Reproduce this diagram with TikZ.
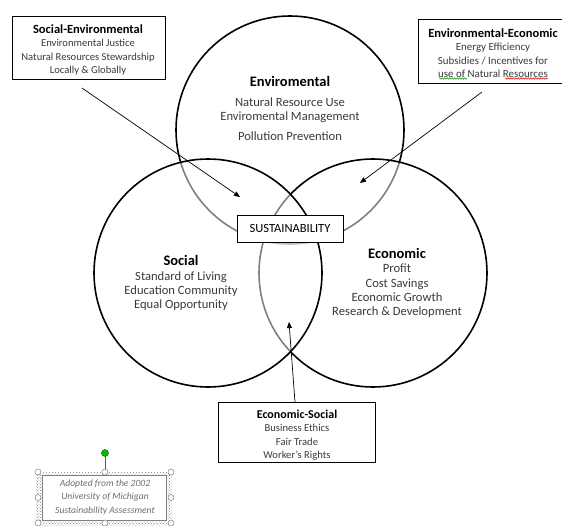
\documentclass[tikz,border=0pt]{standalone}
\usepackage{fontspec}
\setmainfont{Carlito}
\usetikzlibrary{arrows.meta,decorations.pathmorphing,patterns}
\definecolor{txt}{HTML}{3A3A3A}
\definecolor{note}{HTML}{6E6E6E}
\begin{document}
\begin{tikzpicture}[x=1pt,y=-1pt,
  ring/.style={circle,draw=black,line width=1.6pt,minimum size=228pt,inner sep=0pt},
  veil/.style={ring,fill=white,fill opacity=0.5},
  box/.style={draw=black,line width=0.8pt,fill=white},
  blk/.style={align=center,text=txt,inner sep=0pt},
  arr/.style={line width=0.7pt,-{Triangle[length=6pt,width=5pt]}},
  handle/.style={circle,draw=gray,fill=white,line width=0.5pt,inner sep=0pt,minimum size=6pt}
]
\useasboundingbox (0,0) rectangle (562,525);
% circles
\node[ring] (env) at (290,130) {};
\node[veil] (eco) at (373,273) {};
\node[veil] (soc) at (208,273) {};
% circle texts
\node[blk,font=\fontsize{12.6}{14}\selectfont] (envt) at (290,108) {{\bfseries\color{black}\fontsize{14.5}{16}\selectfont Enviromental}\\[6pt]
  Natural Resource Use\\ Enviromental Management\\[6pt] Pollution Prevention};
\node[blk,font=\fontsize{12.6}{14}\selectfont] (soct) at (181,283) {{\bfseries\color{black}\fontsize{14.5}{16}\selectfont Social}\\[1pt]
  Standard of Living\\ Education Community\\ Equal Opportunity};
\node[blk,font=\fontsize{12.6}{14.3}\selectfont] (ecot) at (397,283) {{\bfseries\color{black}\fontsize{14.5}{16}\selectfont Economic}\\
  Profit\\ Cost Savings\\ Economic Growth\\ Research \& Development};
% centre box
\node[box,minimum width=106pt,minimum height=27pt,inner sep=0pt,font=\fontsize{12.5}{14}\selectfont,text=black] (sus) at (290,228.5) {SUSTAINABILITY};
% corner boxes
\node[box,minimum width=153pt,minimum height=63pt,inner sep=0pt] (se) at (88.5,47.5) {};
\node[blk,font=\fontsize{10.6}{13.4}\selectfont] (set) at (88,50) {{\bfseries\color{black}\fontsize{12.5}{13.4}\selectfont Social-Environmental}\\
  Environmental Justice\\ Natural Resources Stewardship\\ Locally \& Globally};
\node[box,minimum width=150pt,minimum height=64pt,inner sep=0pt] (ee) at (493,51) {};
\node[blk,font=\fontsize{10.9}{13.4}\selectfont] (eet) at (493,53) {{\bfseries\color{black}\fontsize{12.5}{13.4}\selectfont Environmental-Economic}\\
  Energy Efficiency\\ Subsidies / Incentives for\\ use of Natural Resources};
\draw[green!55!black,line width=0.5pt,decorate,decoration={snake,amplitude=0.7pt,segment length=2.5pt}] (439,78.5) -- (467,78.5);
\draw[red!85!black,line width=0.5pt,decorate,decoration={snake,amplitude=0.7pt,segment length=2.5pt}] (505,78.5) -- (548,78.5);
\node[box,minimum width=157pt,minimum height=60pt,inner sep=0pt] (es) at (296.5,432) {};
\node[blk,font=\fontsize{10.6}{13.4}\selectfont] (est) at (297,435) {{\bfseries\color{black}\fontsize{12}{13.4}\selectfont Economic-Social}\\
  Business Ethics\\ Fair Trade\\ Worker's Rights};
% arrows
\coordinate (a1s) at (82,88);
\coordinate (a1e) at (240,197);
\coordinate (a2s) at (482,92);
\coordinate (a2e) at (360,183);
\coordinate (a3s) at (295,402);
\coordinate (a3e) at (289,322);
\draw[arr] (a1s) -- (a1e);
\draw[arr] (a2s) -- (a2e);
\draw[arr] (a3s) -- (a3e);
% note box with selection frame
\fill[pattern=crosshatch dots,pattern color=gray,even odd rule] (36,471.5) rectangle (172,528) (42.7,475) rectangle (166.7,520);
\node[draw=gray,line width=0.5pt,fill=white,minimum width=124pt,minimum height=45pt,inner sep=0pt] (nb) at (104.7,497.5) {};
\node[align=center,text=note,font=\itshape\fontsize{9.6}{13.5}\selectfont,inner sep=0pt] (nt) at (105,497) {Adopted from the 2002\\ University of Michigan\\ Sustainability Assessment};
\node[circle,draw=green!40!black,fill=green!75!black,line width=0.5pt,inner sep=0pt,minimum size=7pt] (rot) at (105,453) {};
\coordinate (rotb) at (105,471.5);
\draw[gray!70!black,line width=0.8pt] (rot) -- (rotb);
\foreach \p/\n in {{(38,472)}/h1,{(105,472)}/h2,{(171,472)}/h3,{(38,497.5)}/h4,{(171,497.5)}/h5,{(38,523)}/h6,{(105,523)}/h7,{(171,523)}/h8}
  \node[handle] (\n) at \p {};
\end{tikzpicture}
\end{document}
